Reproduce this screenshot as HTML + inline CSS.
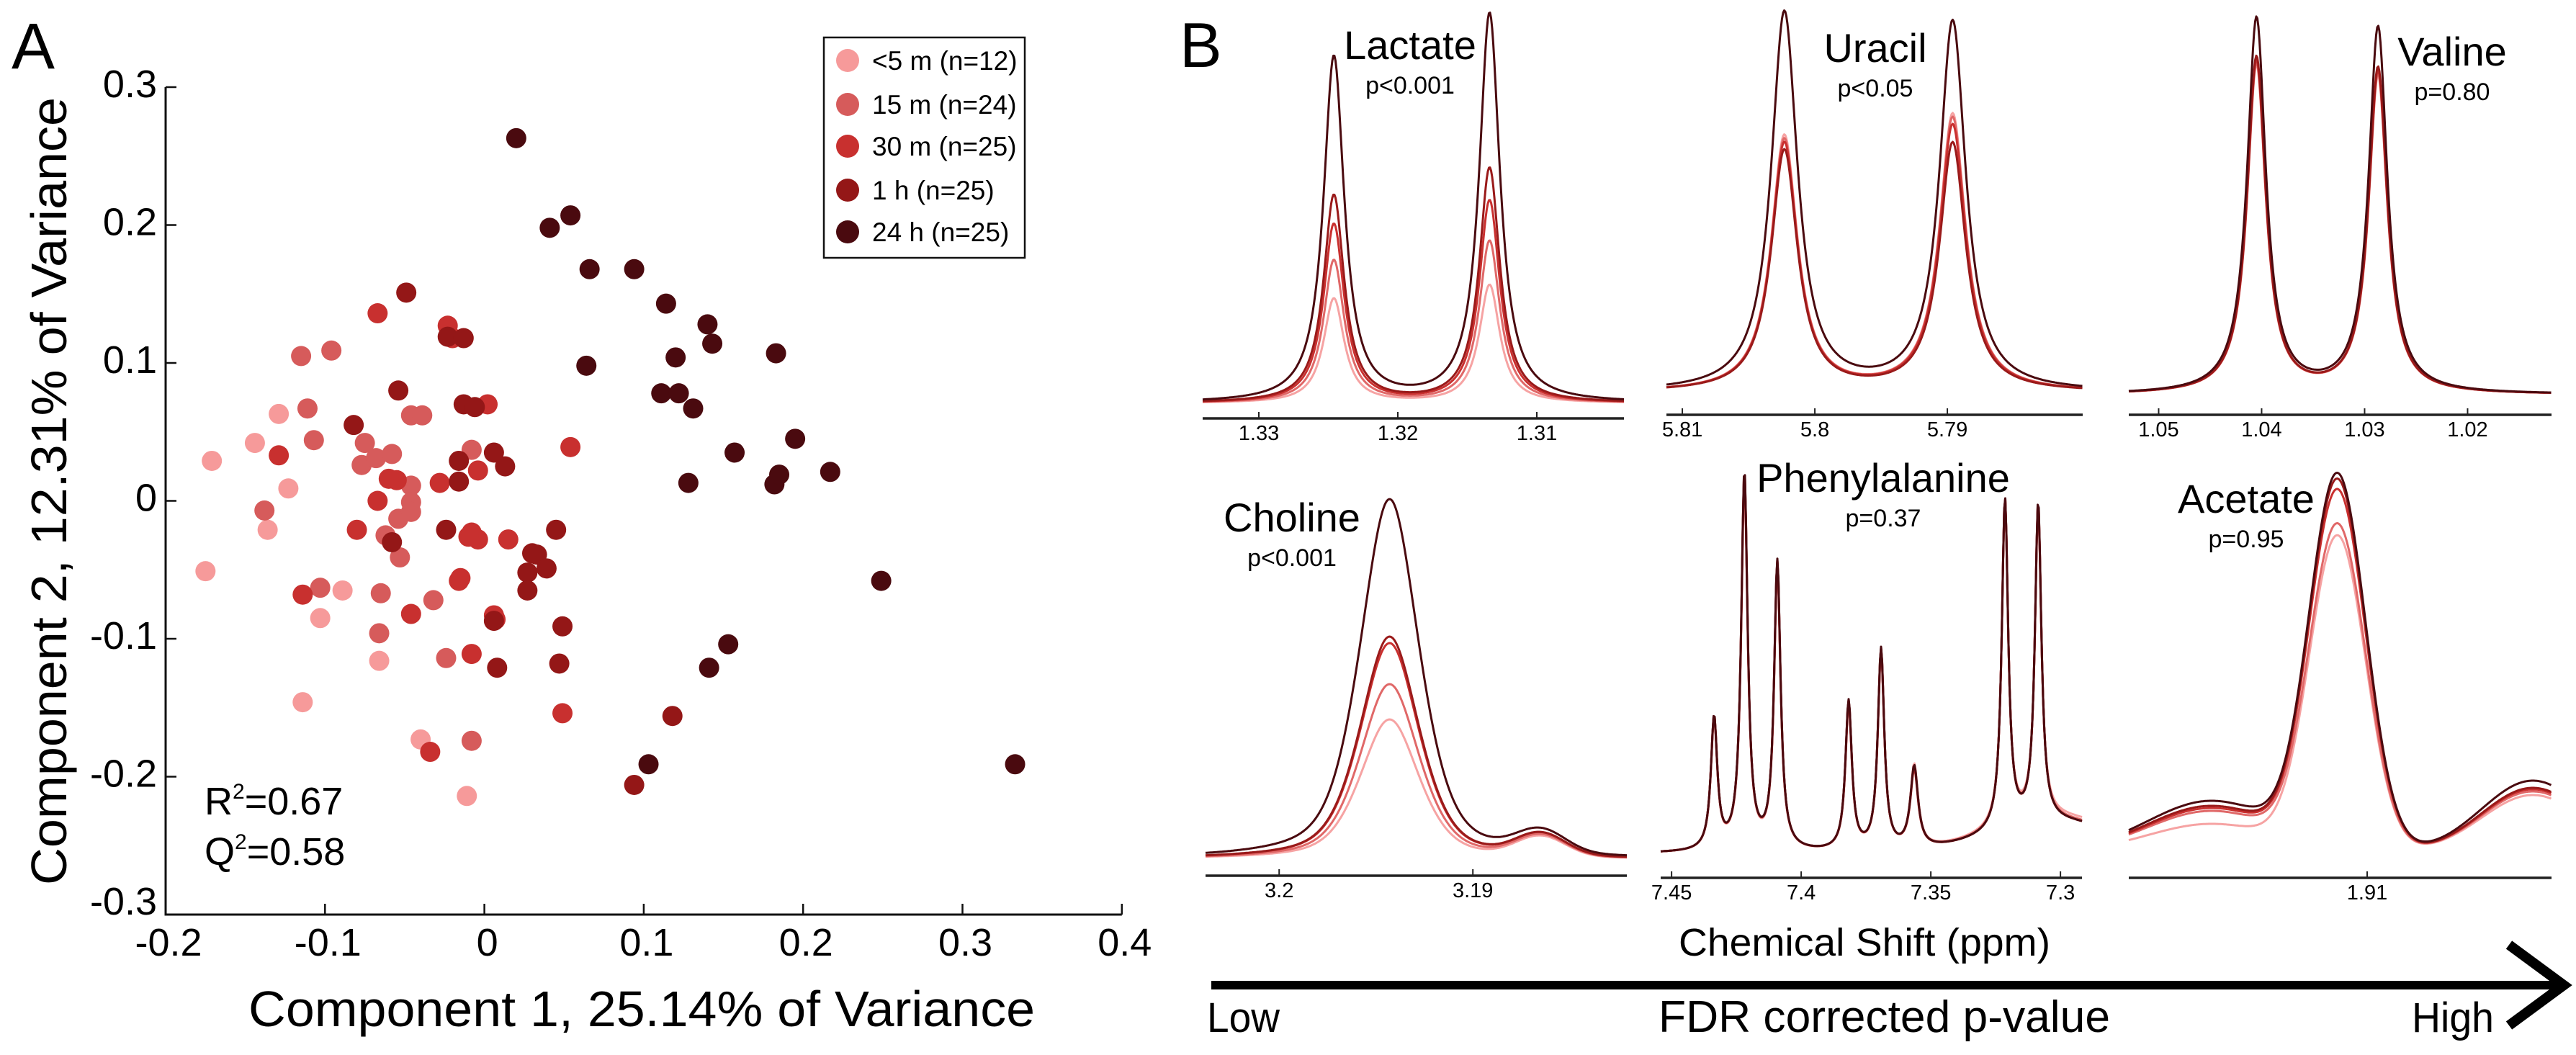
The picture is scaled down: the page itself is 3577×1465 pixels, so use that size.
<!DOCTYPE html>
<html><head><meta charset="utf-8">
<style>
html,body{margin:0;padding:0;background:#fff;}
svg{display:block;font-family:"Liberation Sans",sans-serif;}
</style></head>
<body>
<svg id="fig" width="3577" height="1465" viewBox="0 0 3577 1465" xmlns="http://www.w3.org/2000/svg">
<g id="panelA"></g>
<g id="panelB"></g>
</svg>
<script>
// ---------- Panel A data ----------
const groupNames = ["<5 m (n=12)","15 m (n=24)","30 m (n=25)","1 h (n=25)","24 h (n=25)"];
const groupColors = ["#f69a9a","#d65b5b","#c8302f","#941717","#4a0a0f"];
const xTicks = [-0.2,-0.1,0,0.1,0.2,0.3,0.4];
const yTicks = [0.3,0.2,0.1,0,-0.1,-0.2,-0.3];
const xLabels = ["-0.2","-0.1","0","0.1","0.2","0.3","0.4"];
const yLabels = ["0.3","0.2","0.1","0","-0.1","-0.2","-0.3"];
const g5x = [-0.171,-0.144,-0.129,-0.123,-0.136,-0.175,-0.103,-0.089,-0.114,-0.066,-0.040,-0.011];
const g5y = [0.029,0.042,0.063,0.009,-0.021,-0.051,-0.085,-0.065,-0.146,-0.116,-0.173,-0.214];
const g15x = [-0.115,-0.096,-0.111,-0.107,-0.138,-0.103,-0.075,-0.077,-0.068,-0.058,-0.066,-0.065,-0.062,-0.053,-0.054,-0.046,-0.046,-0.046,-0.046,-0.039,-0.008,-0.032,-0.024,-0.008];
const g15y = [0.105,0.109,0.067,0.044,-0.007,-0.063,0.042,0.026,0.031,0.034,-0.096,-0.067,-0.025,-0.041,-0.013,0.011,-0.001,-0.008,0.062,0.062,0.037,-0.072,-0.114,-0.174];
const g30x = [-0.067,-0.129,-0.114,-0.080,-0.067,-0.055,-0.046,-0.028,0.002,-0.004,-0.008,-0.004,-0.016,-0.008,0.007,0.015,0.054,0.049,-0.034,-0.023,-0.015,-0.010,0.006,-0.020,-0.060];
const g30y = [0.136,0.033,-0.068,-0.021,0.000,0.015,-0.082,0.013,0.070,0.022,-0.023,-0.028,-0.058,-0.111,-0.086,-0.028,0.039,-0.154,-0.182,0.127,-0.056,-0.026,-0.083,0.118,0.016];
const g1hx = [-0.049,-0.054,-0.023,-0.013,-0.082,-0.016,-0.016,0.006,0.013,-0.024,0.045,0.033,0.027,0.039,0.027,0.049,0.047,0.008,0.118,0.094,-0.013,-0.006,-0.058,0.030,0.006];
const g1hy = [0.151,0.080,0.119,0.118,0.055,0.029,0.014,0.035,0.025,-0.021,-0.021,-0.039,-0.052,-0.049,-0.065,-0.091,-0.118,-0.121,-0.156,-0.206,0.070,0.068,-0.030,-0.038,-0.087];
const g24x = [0.020,0.041,0.054,0.066,0.094,0.114,0.140,0.143,0.183,0.120,0.064,0.111,0.122,0.131,0.195,0.157,0.217,0.128,0.182,0.185,0.249,0.153,0.141,0.103,0.333];
const g24y = [0.263,0.198,0.207,0.168,0.168,0.143,0.128,0.114,0.107,0.104,0.098,0.078,0.078,0.067,0.045,0.035,0.021,0.013,0.012,0.019,-0.058,-0.104,-0.121,-0.191,-0.191];
const groupX = [g5x,g15x,g30x,g1hx,g24x];
const groupY = [g5y,g15y,g30y,g1hy,g24y];

// ---------- Panel B data ----------
const lacCenters = [1.3246, 1.3134];
const lacHeights = [[145,198,248,288,480],[164,225,281,326,540]];
const uraCenters = [5.8023, 5.7896];
const uraHeights = [[355,350,345,335,526],[385,380,370,345,513]];
const valCenters = [1.0405, 1.0287];
const valHeights = [[455,458,462,467,521],[440,443,447,452,508]];
const choCenters = [3.1943, 3.1865];
const choHeights = [[194,243,300,309,500],[28,29,30,30,31]];
const pheCenters = [7.4336,7.4219,7.4092,7.3817,7.3692,7.3564,7.3214,7.3086,7.30];
const pheHeights = [[178,180,183,182,183],[505,515,520,522,525],[385,392,398,398,400],[198,203,205,206,207],[270,275,277,278,279],[115,110,108,112,113],[450,455,458,459,459],[430,437,440,442,444],[48,44,42,42,42]];
const aceCenters = [1.91098, 1.91516, 1.90451];
const aceHeights = [[435,449,496,510,517],[40,58,62,65,72],[80,85,88,90,100]];
const lacTicks = [1.33,1.32,1.31], uraTicks=[5.81,5.8,5.79], valTicks=[1.05,1.04,1.03,1.02];
const choTicks = [3.2,3.19], pheTicks=[7.45,7.4,7.35,7.3], aceTicks=[1.91];
const lacTickLabels=["1.33","1.32","1.31"], uraTickLabels=["5.81","5.8","5.79"], valTickLabels=["1.05","1.04","1.03","1.02"];
const choTickLabels=["3.2","3.19"], pheTickLabels=["7.45","7.4","7.35","7.3"], aceTickLabels=["1.91"];

const lineColors = ["#f6a3a3","#e06868","#c9302f","#9a1a1a","#4a0a0f"];
const NS="http://www.w3.org/2000/svg";
function mk(parent, tag, attrs, text){
  const e=document.createElementNS(NS,tag);
  for(const k in attrs) e.setAttribute(k,attrs[k]);
  if(text!==undefined) e.textContent=text;
  parent.appendChild(e); return e;
}

// ---------- Panel A ----------
const A=document.getElementById('panelA');
const X0=230, XPX=2213, Y0=695.5, YPX=1915;
const sx=v=>X0+(v+0.2)*XPX;
const sy=v=>Y0-v*YPX;
let t;
t=mk(A,'text',{x:16,y:95,'font-size':90},'A');
 
let ax=mk(A,'path',{d:`M${X0} ${sy(0.3)} V${sy(-0.3)} H${sx(0.4)}`,stroke:'#111',fill:'none','stroke-width':3});
 
xTicks.forEach((v,i)=>{
  const tk=mk(A,'line',{x1:sx(v),x2:sx(v),y1:sy(-0.3),y2:sy(-0.3)-15,stroke:'#111','stroke-width':2.5});
   
  const lb=mk(A,'text',{x:sx(v)+4,y:1327,'font-size':54,'text-anchor':'middle'},xLabels[i]);
   
});
yTicks.forEach((v,i)=>{
  const tk=mk(A,'line',{x1:X0,x2:X0+15,y1:sy(v),y2:sy(v),stroke:'#111','stroke-width':2.5});
   
  const by = v===-0.3 ? sy(v) : sy(v)+14;
  const lb=mk(A,'text',{x:218,y:by,'font-size':54,'text-anchor':'end'},yLabels[i]);
   
});
t=mk(A,'text',{x:891,y:1425,'font-size':70,'text-anchor':'middle',textLength:1092,lengthAdjust:'spacingAndGlyphs'},'Component 1, 25.14% of Variance');
 
t=mk(A,'text',{x:0,y:0,'font-size':70,'text-anchor':'middle',textLength:1094,lengthAdjust:'spacingAndGlyphs',transform:'translate(92,682) rotate(-90)'},'Component 2, 12.31% of Variance');
 
groupX.forEach((xs,g)=>{
  const gg=mk(A,'g',{});
   
  xs.forEach((xv,i)=>{
    const c=mk(gg,'circle',{cx:sx(xv),cy:sy(groupY[g][i]),r:14,fill:groupColors[g]});
     
  });
});
t=mk(A,'text',{x:284,y:1131,'font-size':54});
 
t.innerHTML='R<tspan font-size="30" dy="-22">2</tspan><tspan dy="22">=0.67</tspan>';
t=mk(A,'text',{x:284,y:1201,'font-size':54});
 
t.innerHTML='Q<tspan font-size="30" dy="-22">2</tspan><tspan dy="22">=0.58</tspan>';
const L=mk(A,'g',{});
 
mk(L,'rect',{x:1144,y:52,width:279,height:306,fill:'#fff',stroke:'#111','stroke-width':2.5});
const legY=[84,145,203,264,322];
groupNames.forEach((n,g)=>{
  const c=mk(L,'circle',{cx:1177,cy:legY[g],r:16,fill:groupColors[g]});
   
  const lt=mk(L,'text',{x:1211,y:legY[g]+13,'font-size':37},n);
   
});

// ---------- Panel B ----------
const B=document.getElementById('panelB');
t=mk(B,'text',{x:1638,y:93,'font-size':88},'B');
 
const lor=x=>1/(1+x*x);
const gau=x=>Math.exp(-x*x*0.693);
function panel(cfg, centers, heights, ticks, tickLabels){
  const G=mk(B,'g',{});
   
  const px=p=>cfg.x0+(cfg.p0-p)*cfg.ppx;
  const pp=x=>cfg.p0-(x-cfg.x0)/cfg.ppx;
  for(let g=0; g<5; g++){
    let d='';
    for(let x=cfg.x0; x<=cfg.x1; x+=1.5){
      const p=pp(x); let v=0;
      centers.forEach((c,k)=>{
        const w=cfg.w[k]; const u=(p-c)/w;
        const f=cfg.shape[k]==='g'?gau(u):(cfg.shape[k]==='v'?0.5*gau(u)+0.5*lor(u):lor(u));
        v+=heights[k][g]*f;
      });
      d+=(d?'L':'M')+x.toFixed(1)+' '+(cfg.zy-v).toFixed(1);
    }
    const path=mk(G,'path',{d:d,fill:'none',stroke:lineColors[g],'stroke-width':3,'stroke-linejoin':'round'});
     
  }
  const al=mk(G,'line',{x1:cfg.x0,x2:cfg.x1,y1:cfg.ay,y2:cfg.ay,stroke:'#222','stroke-width':3.5});
   
  ticks.forEach((v,i)=>{
    const tk=mk(G,'line',{x1:px(v),x2:px(v),y1:cfg.ay,y2:cfg.ay-9,stroke:'#222','stroke-width':2});
     
    const lb=mk(G,'text',{x:px(v),y:cfg.ay+30,'font-size':29,'text-anchor':'middle'},tickLabels[i]);
     
  });
  const tt=mk(G,'text',{x:cfg.tx,y:cfg.ty,'font-size':56,'text-anchor':'middle'},cfg.title);
   
  const pv=mk(G,'text',{x:cfg.tx,y:cfg.ty+48,'font-size':34,'text-anchor':'middle'},cfg.p);
   
}
panel({name:'lactate-panel',x0:1670,x1:2255,p0:1.33+78/19300,ppx:19300,zy:560,ay:581,w:[0.0009,0.0009],shape:['l','l'],tx:1958,ty:82,title:'Lactate',p:'p<0.001'},lacCenters,lacHeights,lacTicks,lacTickLabels);
panel({name:'uracil-panel',x0:2314,x1:2892,p0:5.8112,ppx:18400,zy:545,ay:576,w:[0.0012,0.0012],shape:['l','l'],tx:2604,ty:86,title:'Uracil',p:'p<0.05'},uraCenters,uraHeights,uraTicks,uraTickLabels);
panel({name:'valine-panel',x0:2956,x1:3543,p0:1.0529,ppx:14300,zy:548,ay:576,w:[0.0011,0.0011],shape:['l','l'],tx:3405,ty:91,title:'Valine',p:'p=0.80'},valCenters,valHeights,valTicks,valTickLabels);
panel({name:'choline-panel',x0:1674,x1:2259,p0:3.2038,ppx:26900,zy:1193,ay:1216,w:[0.0018,0.0015],shape:['v','g'],tx:1794,ty:738,title:'Choline',p:'p<0.001'},choCenters,choHeights,choTicks,choTickLabels);
panel({name:'phenylalanine-panel',x0:2306,x1:2891,p0:7.4542,ppx:3600,zy:1185,ay:1219,w:[0.0015,0.0015,0.0015,0.0015,0.0015,0.0018,0.0015,0.0015,0.03],shape:['l','l','l','l','l','l','l','l','g'],tx:2615,ty:683,title:'Phenylalanine',p:'p=0.37'},pheCenters,pheHeights,pheTicks,pheTickLabels);
panel({name:'acetate-panel',x0:2956,x1:3543,p0:1.9179,ppx:41900,zy:1184,ay:1219,w:[0.0011,0.0025,0.002],shape:['g','g','g'],tx:3119,ty:712,title:'Acetate',p:'p=0.95'},aceCenters,aceHeights,aceTicks,aceTickLabels);

t=mk(B,'text',{x:2589,y:1327,'font-size':54,'text-anchor':'middle',textLength:516,lengthAdjust:'spacingAndGlyphs'},'Chemical Shift (ppm)');
 
t=mk(B,'line',{x1:1682,x2:3552,y1:1368,y2:1368,stroke:'#000','stroke-width':12});
 
t=mk(B,'polyline',{points:'3484,1312 3560,1368 3484,1424',fill:'none',stroke:'#000','stroke-width':14});
 
t=mk(B,'text',{x:1676,y:1433,'font-size':58,textLength:101,lengthAdjust:'spacingAndGlyphs'},'Low');
 
t=mk(B,'text',{x:2303,y:1433,'font-size':62,textLength:627,lengthAdjust:'spacingAndGlyphs'},'FDR corrected p-value');
 
t=mk(B,'text',{x:3349,y:1433,'font-size':58,textLength:114,lengthAdjust:'spacingAndGlyphs'},'High');
 
</script>
</body></html>
